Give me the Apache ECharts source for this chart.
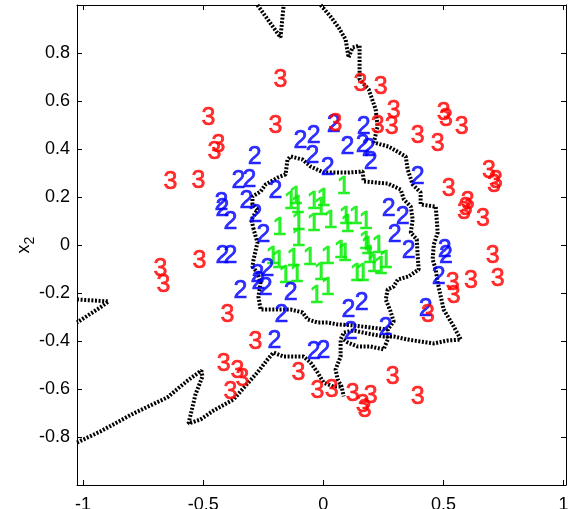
<!DOCTYPE html>
<html><head><meta charset="utf-8">
<script src="https://cdn.jsdelivr.net/npm/echarts@6/dist/echarts.min.js"></script>
<style>html,body{margin:0;padding:0;background:#fff}#c{width:577px;height:509px}</style>
</head><body><div id="c"></div>
<script>
const xTicks = [-1, -0.5, 0, 0.5, 1];
const yTicks = [-0.8, -0.6, -0.4, -0.2, 0, 0.2, 0.4, 0.6, 0.8];

const class1 = [
 [0.085,0.240],[-0.136,0.177],[-0.115,0.198],[-0.107,0.160],[-0.040,0.177],[0.001,0.190],
 [-0.011,0.152],[-0.182,0.069],[-0.103,0.090],[-0.040,0.085],[0.030,0.098],[0.093,0.115],
 [0.101,0.081],[0.135,0.115],[0.176,0.094],[0.176,0.010],[0.185,-0.010],[0.230,-0.006],
 [-0.103,0.023],[-0.211,-0.052],[-0.186,-0.069],[-0.124,-0.060],[-0.057,-0.056],[0.018,-0.052],
 [0.072,-0.027],[-0.157,-0.131],[-0.111,-0.127],[-0.011,-0.119],[0.139,-0.123],[0.164,-0.123],
 [0.239,-0.094],[-0.028,-0.215],[0.018,-0.181],[0.089,-0.040],[0.193,-0.048],[0.210,-0.085],
 [0.260,-0.069]
];
const class2 = [
 [-0.286,0.365],[-0.095,0.431],[-0.040,0.452],[-0.045,0.369],[0.018,0.319],[0.043,0.498],
 [0.101,0.406],[0.168,0.490],[0.164,0.415],[0.189,0.398],[0.197,0.344],[0.393,0.281],
 [-0.353,0.265],[-0.307,0.269],[-0.199,0.223],[-0.424,0.173],[-0.420,0.148],[-0.320,0.181],
 [-0.386,0.094],[-0.282,0.123],[-0.249,0.040],[0.272,0.148],[0.330,0.115],[0.297,0.040],
 [0.355,-0.027],[0.505,-0.023],[0.510,-0.048],[0.480,-0.135],[-0.420,-0.048],[-0.386,-0.048],
 [-0.232,-0.102],[-0.274,-0.127],[-0.270,-0.156],[-0.240,-0.181],[-0.345,-0.194],[-0.136,-0.202],
 [-0.174,-0.294],[-0.203,-0.402],[-0.040,-0.448],[0.001,-0.444],[0.105,-0.273],[0.160,-0.244],
 [0.114,-0.365],[0.260,-0.348],[0.426,-0.269]
];
const class3 = [
 [-0.178,0.685],[0.155,0.669],[0.239,0.656],[-0.478,0.527],[-0.199,0.494],[-0.436,0.415],
 [-0.453,0.385],[-0.636,0.260],[-0.520,0.265],[0.051,0.502],[0.293,0.556],[0.285,0.490],
 [0.226,0.494],[0.501,0.548],[0.510,0.523],[0.576,0.490],[0.393,0.452],[0.476,0.419],
 [0.689,0.306],[0.718,0.265],[0.710,0.248],[0.522,0.231],[0.601,0.177],[0.585,0.135],
 [0.593,0.152],[0.664,0.106],[-0.515,-0.069],[-0.678,-0.102],[-0.665,-0.169],[-0.399,-0.294],
 [-0.282,-0.406],[-0.415,-0.498],[-0.357,-0.527],[-0.336,-0.560],[-0.386,-0.615],[-0.103,-0.535],
 [-0.024,-0.610],[0.035,-0.606],[0.122,-0.623],[0.197,-0.631],[0.164,-0.669],[0.172,-0.690],
 [0.289,-0.552],[0.393,-0.635],[0.705,-0.048],[0.726,-0.144],[0.614,-0.152],[0.539,-0.160],
 [0.543,-0.215],[0.435,-0.294]
];

const boundaryTop = [[-0.274,1.0],[-0.178,0.865],[-0.165,1.0]];
const boundaryOuter = [
 [-0.011,1.0],[0.030,0.952],[0.064,0.906],[0.093,0.856],[0.105,0.781],[0.122,0.823],[0.151,0.831],
 [0.151,0.690],[0.189,0.648],[0.218,0.565],[0.226,0.494],[0.210,0.427],[0.272,0.410],[0.343,0.369],
 [0.351,0.315],[0.372,0.252],[0.405,0.219],[0.405,0.169],[0.468,0.160],[0.476,0.052],[0.460,0.002],
 [0.455,-0.060],[0.468,-0.102],[0.476,-0.156],[0.501,-0.269],[0.543,-0.340],[0.572,-0.394],
 [0.518,-0.398],[0.460,-0.410],[0.405,-0.402],[0.351,-0.394],[0.293,-0.381],[0.251,-0.381],
 [0.185,-0.369],[0.126,-0.356],[0.085,-0.365],[0.072,-0.394],[0.072,-0.465],[0.051,-0.519],
 [0.060,-0.560],[0.076,-0.590],[0.085,-0.631]
];
const boundaryInner = [
 [-0.290,0.065],[-0.299,0.106],[-0.274,0.148],[-0.295,0.169],[-0.295,0.202],[-0.261,0.223],
 [-0.240,0.252],[-0.190,0.281],[-0.157,0.294],[-0.149,0.356],[-0.136,0.369],[-0.086,0.356],
 [-0.053,0.327],[0.001,0.302],[0.101,0.302],[0.164,0.306],[0.168,0.265],[0.268,0.256],
 [0.322,0.231],[0.335,0.190],[0.364,0.160],[0.372,0.106],[0.364,0.052],[0.389,0.023],
 [0.393,-0.048],[0.397,-0.102],[0.355,-0.131],[0.310,-0.144],[0.293,-0.173],[0.268,-0.185],
 [0.260,-0.227],[0.280,-0.277],[0.293,-0.319],[0.268,-0.352],[0.197,-0.344],[0.126,-0.335],
 [0.060,-0.331],[0.018,-0.323],[-0.024,-0.323],[-0.065,-0.310],[-0.086,-0.281],[-0.136,-0.269],
 [-0.207,-0.269],[-0.261,-0.269],[-0.270,-0.215],[-0.261,-0.156],[-0.274,-0.115],[-0.295,-0.090],
 [-0.290,-0.060],[-0.274,0.010],[-0.290,0.065]
];
const boundaryLoop = [
 [0.085,-0.394],[0.101,-0.406],[0.143,-0.423],[0.197,-0.423],[0.251,-0.435],[0.268,-0.394],[0.268,-0.352]
];
const boundaryBottom = [
 [-1.025,-0.823],[-0.928,-0.777],[-0.790,-0.702],[-0.649,-0.635],[-0.565,-0.565],[-0.507,-0.523],
 [-0.503,-0.548],[-0.532,-0.623],[-0.561,-0.744],[-0.511,-0.727],[-0.457,-0.690],[-0.374,-0.644],
 [-0.315,-0.577],[-0.274,-0.531],[-0.232,-0.477],[-0.207,-0.448],[-0.165,-0.465],[-0.082,-0.465],
 [-0.053,-0.490],[-0.024,-0.531],[0.001,-0.573],[0.043,-0.590],[0.076,-0.590]
];
const boundaryLeft = [[-1.025,-0.227],[-0.894,-0.235],[-0.928,-0.260],[-1.025,-0.323]];

const FONT = 'Liberation Sans, Arial, Helvetica, sans-serif';
const chart = echarts.init(document.getElementById('c'), null, {renderer: 'canvas'});

function lineSeries(d) {
  return {type: 'line', data: d, symbol: 'none', silent: true, z: 1, animation: false,
    lineStyle: {color: '#000', width: 4, type: [2, 1.6]}};
}
function textSeries(d, txt, col) {
  return {type: 'scatter', data: d, symbolSize: 1, silent: true, z: 3, animation: false,
    itemStyle: {color: 'rgba(0,0,0,0)'},
    label: {show: true, position: 'inside', formatter: txt, color: col, fontSize: 25, fontFamily: FONT,
      textBorderColor: col, textBorderWidth: 0.7}};
}
const axisCommon = {
  type: 'value',
  axisLine: {onZero: false, lineStyle: {color: '#000', width: 1}},
  splitLine: {show: false}
};
chart.setOption({
  backgroundColor: '#fff',
  animation: false,
  grid: {left: 77, right: 11, top: 5, bottom: 24, containLabel: false, outerBoundsMode: 'none'},
  xAxis: [
    Object.assign({}, axisCommon, {min: -1.025, max: 1.01, position: 'bottom',
      axisTick: {inside: true, length: 5, customValues: xTicks, lineStyle: {color: '#000'}},
      axisLabel: {customValues: xTicks, color: '#000', fontSize: 18, margin: 11, fontFamily: FONT}}),
    Object.assign({}, axisCommon, {min: -1.025, max: 1.01, position: 'top',
      axisTick: {inside: true, length: 5, customValues: xTicks, lineStyle: {color: '#000'}},
      axisLabel: {show: false}})
  ],
  yAxis: [
    Object.assign({}, axisCommon, {min: -1, max: 1, position: 'left',
      axisTick: {inside: true, length: 5, customValues: yTicks, lineStyle: {color: '#000'}},
      axisLabel: {customValues: yTicks, color: '#000', fontSize: 18, margin: 7, fontFamily: FONT},
      name: '{x|x}{s|2}', nameLocation: 'middle', nameRotate: 90, nameGap: 40, nameMoveOverlap: false,
      nameTextStyle: {color: '#000', fontFamily: FONT, rich: {
        x: {fontSize: 18, fontFamily: FONT, color: '#000', verticalAlign: 'top'},
        s: {fontSize: 14, fontFamily: FONT, color: '#000', verticalAlign: 'top', padding: [8, 0, 0, 0]}
      }}}),
    Object.assign({}, axisCommon, {min: -1, max: 1, position: 'right',
      axisTick: {inside: true, length: 5, customValues: yTicks, lineStyle: {color: '#000'}},
      axisLabel: {show: false}})
  ],
  series: [
    lineSeries(boundaryTop), lineSeries(boundaryOuter), lineSeries(boundaryInner),
    lineSeries(boundaryLoop), lineSeries(boundaryBottom), lineSeries(boundaryLeft),
    textSeries(class1, '1', '#00ee00'),
    textSeries(class2, '2', '#0000ff'),
    textSeries(class3, '3', '#ff0000')
  ]
});
</script></body></html>
